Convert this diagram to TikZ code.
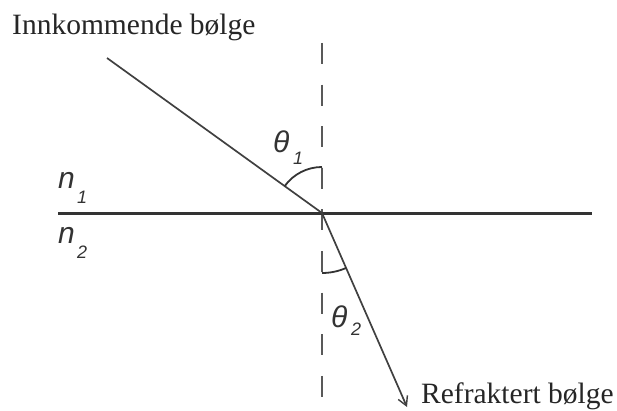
\documentclass[tikz,border=0pt]{standalone}
\usepackage{fontspec}
\setmainfont{Liberation Serif}
\newfontfamily\lblfont{Liberation Sans}
\usetikzlibrary{arrows.meta}
\begin{document}
\begin{tikzpicture}[x=1pt,y=1pt]
\useasboundingbox (0,0) rectangle (617,410);
\tikzset{
  interface/.style={draw=black!80, line width=3pt},
  normalline/.style={draw=black!65, line width=1.8pt, dash pattern=on 21pt off 20.6pt},
  ray/.style={draw=black!75, line width=1.7pt},
  anglearc/.style={draw=black!80, line width=1.8pt},
  caption/.style={font=\fontsize{29.5}{32}\selectfont, text=black!85, inner sep=0pt},
  symb/.style={font=\lblfont\itshape\fontsize{30}{32}\selectfont, text=black!80, inner sep=0pt},
  idx/.style={font=\lblfont\itshape\fontsize{18}{20}\selectfont, text=black!80, inner sep=0pt}
}
\coordinate (O) at (322,197);
\coordinate (A) at (107,352);
\coordinate (B) at (407,3);
\coordinate (L) at (58,197);
\coordinate (R) at (592,197);
\coordinate (T) at (322,367);
\coordinate (D) at (322,0);
\draw[normalline] (T) -- (D);
\draw[interface] (L) -- (R);
\draw[ray] (A) -- (O);
\draw[ray, -{Straight Barb[length=9pt,width=10pt,line width=1.4pt]}] (O) -- (B);
\draw[anglearc] ([shift={(90:46)}]O) arc[start angle=90, end angle=144.2, radius=46];
\draw[anglearc] ([shift={(270:60)}]O) arc[start angle=270, end angle=293.8, radius=60];
\node[caption, anchor=base west] (inc) at (12,375) {Innkommende bølge};
\node[caption, anchor=base west] (ref) at (421,7) {Refraktert bølge};
\node[symb, anchor=base west] (n1) at (58,222) {n};
\node[idx, anchor=base west] (n1i) at (77,207) {1};
\node[symb, anchor=base west] (n2) at (58,167) {n};
\node[idx, anchor=base west] (n2i) at (77,152) {2};
\node[symb, anchor=base west] (t1) at (273,257) {θ};
\node[idx, anchor=base west] (t1i) at (293,245) {1};
\node[symb, anchor=base west] (t2) at (331,83) {θ};
\node[idx, anchor=base west] (t2i) at (351,75) {2};
\end{tikzpicture}
\end{document}
